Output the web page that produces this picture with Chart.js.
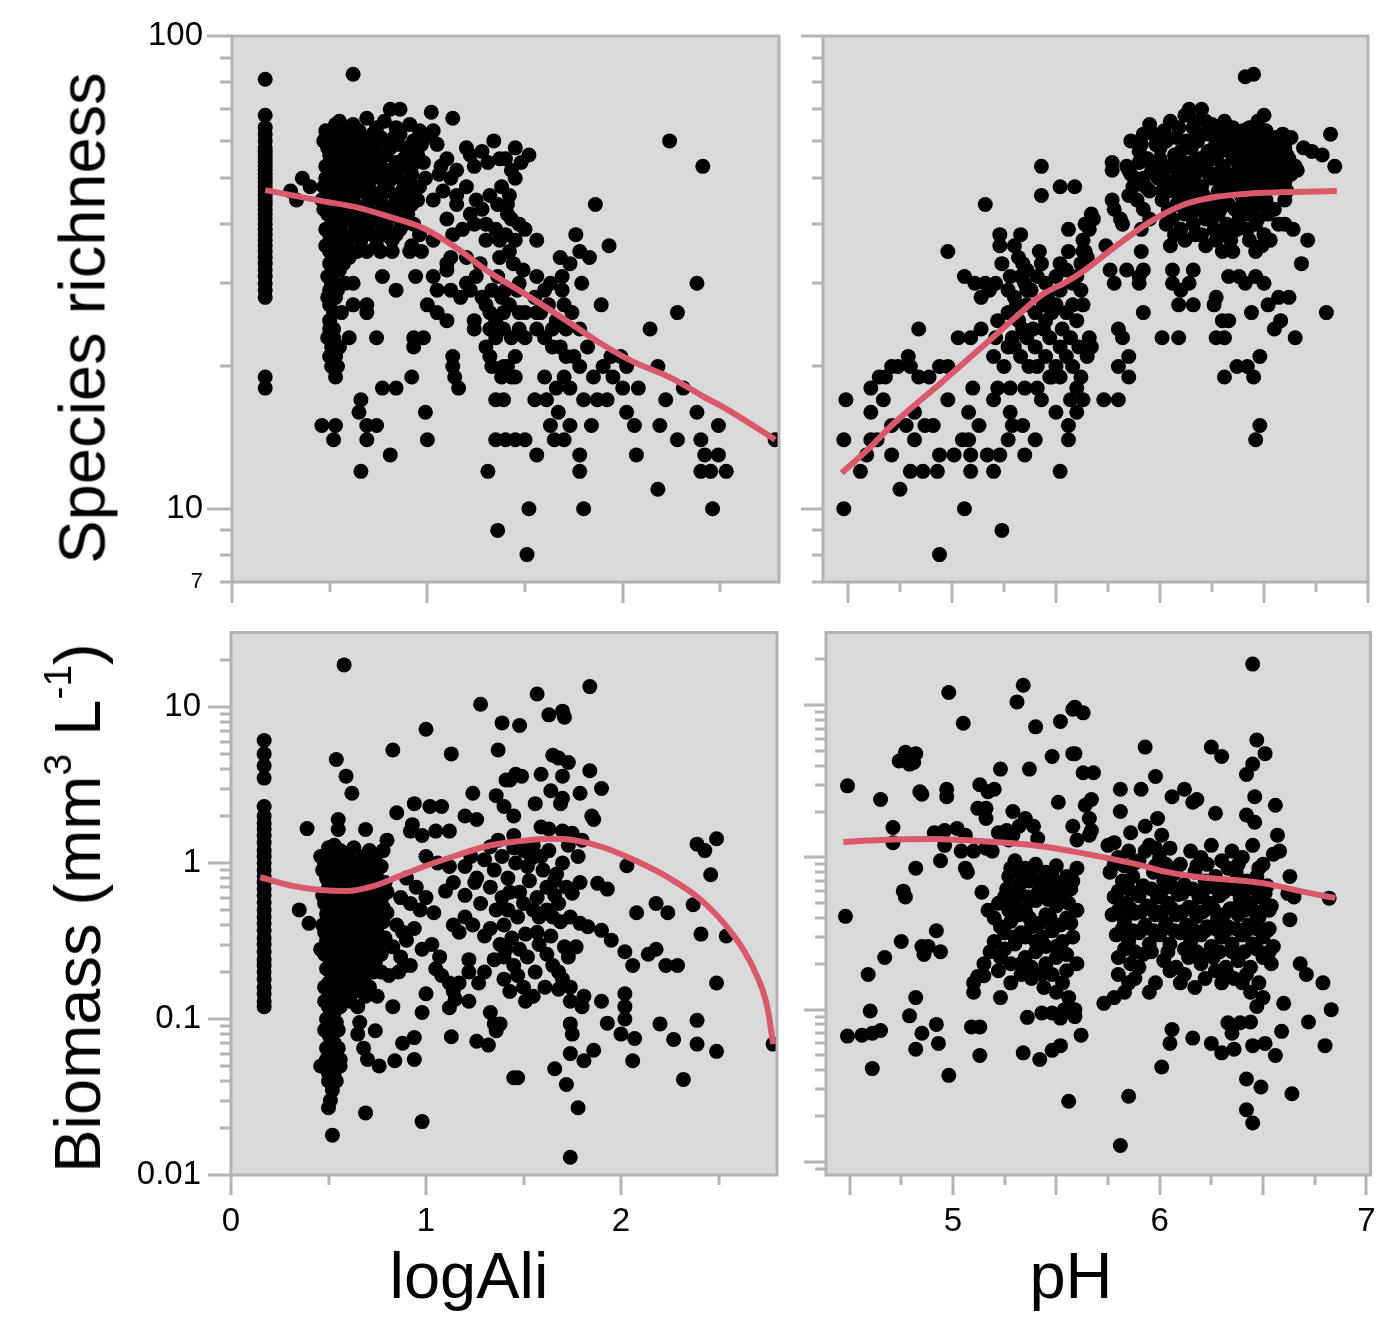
<!DOCTYPE html>
<html>
<head>
<meta charset="utf-8">
<script src="https://cdn.jsdelivr.net/npm/chart.js@4.4.1/dist/chart.umd.min.js"></script>
<style>
  html, body { margin: 0; padding: 0; background: #fff; }
  body { width: 1378px; height: 1336px; position: relative; overflow: hidden;
         font-family: "Liberation Sans", Arial, Helvetica, sans-serif; }
  canvas { position: absolute; }
  .title { position: absolute; font-size: 65px; line-height: 65px; color: #000; white-space: nowrap; }
  .vt { transform: translate(-50%, -50%) rotate(-90deg); }
  .ht { transform: translateX(-50%); }
  .sup { font-size: 0.6em; position: relative; top: -0.75em; }
</style>
</head>
<body>
<canvas id="tl" width="700" height="625" style="left:100px;top:0"></canvas>
<canvas id="tr" width="578" height="625" style="left:800px;top:0"></canvas>
<canvas id="bl" width="700" height="680" style="left:100px;top:625px"></canvas>
<canvas id="br" width="578" height="680" style="left:800px;top:625px"></canvas>

<div class="title vt" style="left:82px;top:318px">Species richness</div>
<div class="title vt" style="left:82px;top:908px">Biomass (mm<span class="sup">3</span> L<span class="sup">-1</span>)</div>
<div class="title ht" style="left:469px;top:1243px">logAli</div>
<div class="title ht" style="left:1071px;top:1243px">pH</div>

<script>
(function () {
  'use strict';

  // -- axis ranges and ticks --------------------------------------------------
  const aliRange = [0, 2.8];
  const phRangeTop = [4.38, 7.0];
  const phRangeBottom = [4.386, 7.02];
  const richRange = [7, 100];
  const bioRangeAli = [0.01, 30];
  const bioRangePh = [0.0082, 30];

  const aliMajor = [0, 1, 2];
  const aliMinor = [0.5, 1.5, 2.5];
  const aliLabels = [0, 1, 2];
  const phMajor = [4.5, 5, 5.5, 6, 6.5, 7];
  const phMinor = [4.75, 5.25, 5.75, 6.25, 6.75];
  const phLabels = [5, 6, 7];
  const richMajor = [100, 10];
  const richMinor = [90, 80, 70, 60, 50, 40, 30, 20, 9, 8, 7];
  const richLabels = [100, 10, 7];
  const richSmallLabel = 7;
  const bioMajor = [10, 1, 0.1, 0.01];
  const bioMinor = [20, 9, 8, 7, 6, 5, 4, 3, 2, 0.9, 0.8, 0.7, 0.6, 0.5, 0.4, 0.3, 0.2,
                    0.09, 0.08, 0.07, 0.06, 0.05, 0.04, 0.03, 0.02, 0.009];
  const bioLabels = [10, 1, 0.1, 0.01];

  // -- samples below the Ali detection limit (vertical stripe) ---------------
  const aliDL = 0.17;
  const richAtDL = [81, 68, 64, 62, 60, 58, 57, 56, 55, 54, 53, 52, 51, 50, 49, 48, 47, 46, 45, 44, 43,
                    42, 41, 40, 39, 38, 37, 36, 35, 34, 33, 32, 31, 30, 29, 28, 19, 18];
  const bioAtDL = [6.1, 5.0, 4.2, 3.5, 2.3, 2.0, 1.8, 1.65, 1.5, 1.35, 1.2, 1.1, 1.0, 0.9, 0.82, 0.75,
                   0.68, 0.62, 0.56, 0.5, 0.45, 0.41, 0.37, 0.33, 0.3, 0.27, 0.24, 0.22, 0.2, 0.18,
                   0.16, 0.145, 0.13, 0.12];

  // -- species richness vs logAli ---------------------------------------------
  const richAli = [
    [0.62,83],[2.24,60],[2.41,53],[1.52,56],[1.86,44],
    [0.53,65],[0.55,66],[0.6,64],[0.62,65],[0.69,67],[0.72,62],[0.81,70],[0.86,70],[0.91,65],[0.96,63],[1.02,69],[1.03,63],[1.13,67],
    [0.48,63],[0.52,63],[0.57,64],[0.65,63],[0.74,64],[0.78,66],[0.84,64],
    [0.47,60],[0.5,61],[0.53,59],[0.56,62],[0.59,61],[0.63,58],[0.66,60],[0.7,60],[0.74,59],[0.76,61],[0.79,60],[0.83,61],[0.86,62],[0.89,58],[0.93,60],[0.97,59],[1.05,59],[1.34,60],
    [0.49,58],[0.54,58],[0.58,57],[0.61,59],[0.68,58],[0.72,58],[0.81,58],[0.85,59],[0.91,57],[0.99,61],
    [0.5,56],[0.52,54],[0.55,57],[0.57,55],[0.6,53],[0.64,56],[0.67,54],[0.7,55],[0.73,57],[0.76,53],[0.79,56],[0.84,54],[0.88,55],[0.92,53],[0.95,56],[1.07,53],[1.1,55],[1.15,52],[1.2,58],[1.22,56],[1.24,53],[1.28,57],[1.31,54],[1.37,55],[1.4,55],[1.45,58],[1.48,54],
    [0.48,53],[0.53,52],[0.58,53],[0.62,54],[0.66,52],[0.71,53],[0.74,54],[0.81,52],[0.86,53],[0.9,56],[0.98,54],
    [0.36,50],[0.4,48],[0.47,48],[0.5,51],[0.52,49],[0.55,52],[0.58,50],[0.61,48],[0.64,51],[0.68,49],[0.72,50],[0.75,52],[0.78,48],[0.82,50],[0.85,52],[0.88,49],[0.92,51],[0.96,48],[1.06,51],[1.12,50],[1.2,48],[1.38,48],[1.43,52],[1.45,50],
    [0.48,50],[0.53,47],[0.57,48],[0.62,49],[0.67,47],[0.71,47],[0.77,50],[0.8,49],[0.87,47],[0.93,48],[0.99,50],
    [0.3,47],[0.33,45],[0.46,45],[0.49,46],[0.51,44],[0.54,47],[0.57,45],[0.6,46],[0.63,44],[0.66,47],[0.7,45],[0.73,46],[0.77,44],[0.8,47],[0.84,45],[0.88,44],[0.91,46],[0.95,45],[1.03,45],[1.08,47],[1.15,46],[1.25,45],[1.32,46],[1.36,44],[1.42,46],[1.41,44],
    [0.47,43],[0.53,44],[0.57,42],[0.62,45],[0.67,42],[0.7,43],[0.76,45],[0.8,42],[0.85,44],[0.92,44],
    [0.49,42],[0.52,40],[0.55,43],[0.58,41],[0.61,42],[0.65,40],[0.68,43],[0.72,41],[0.75,42],[0.79,40],[0.82,43],[0.86,41],[0.9,42],[0.93,40],[1.1,41],[1.15,44],[1.22,42],[1.24,40],[1.28,43],[1.3,40],[1.41,42],[1.43,41],[1.47,40],
    [0.48,39],[0.51,41],[0.57,37],[0.63,40],[0.67,39],[0.72,38],[0.77,40],[0.84,38],[0.88,40],
    [0.5,38],[0.53,37],[0.56,39],[0.59,36],[0.62,38],[0.66,37],[0.7,39],[0.74,36],[0.78,38],[0.82,37],[0.86,39],[0.92,36],[0.96,38],[1.03,37],[1.13,38],[1.18,39],[1.3,37],[1.35,39],[1.37,37],[1.4,38],[1.45,37],[1.5,39],[1.56,37],[1.76,38],
    [0.48,36],[0.51,37],[0.55,35],[0.57,33],[0.64,35],[0.49,28],[0.54,29],[0.52,24],[0.49,23],[0.54,20],
    [0.5,35],[0.52,34],[0.54,33],[0.6,34],[0.69,35],[0.76,35],[0.82,35],[0.91,35],[0.97,35],[1.12,34],[1.1,33],[1.2,34],[1.27,33],[1.42,35],[1.37,34],[1.44,33],[1.68,34],[1.78,35],[1.83,34],[1.93,36],
    [0.5,33],[0.52,32],[0.53,30],[0.5,29],[0.52,26],[0.5,25],[0.51,22],[0.53,21],
    [0.49,31],[0.51,30],[0.55,32],[0.58,30],[0.62,30],[0.77,31],[0.84,29],[0.94,31],[1.03,31],[1.05,29],[1.1,32],[1.12,29],[1.17,28],[1.2,30],[1.22,29],[1.25,31],[1.33,29],[1.36,31],[1.4,29],[1.47,30],[1.49,32],[1.56,31],[1.63,30],[1.69,31],[1.73,33],[1.6,29],[1.69,29],[1.79,30],[2.38,30],
    [0.5,27],[0.53,28],[0.56,26],[0.62,27],[0.69,26],[0.69,27],[1.0,27],[1.05,26],[1.1,25],[1.24,25],[1.28,28],[1.3,27],[1.32,26],[1.35,25],[1.39,26],[1.38,28],[1.42,27],[1.46,29],[1.47,26],[1.5,26],[1.55,28],[1.56,26],[1.58,26],[1.62,27],[1.66,25],[1.7,27],[1.74,26],[1.89,27],[2.28,26],
    [0.5,24],[0.52,23],[0.55,22],[0.6,23],[0.74,23],[0.93,23],[0.98,23],[0.93,22],[1.24,24],[1.3,22],[1.32,24],[1.35,23],[1.37,24],[1.39,24],[1.43,23],[1.47,24],[1.5,23],[1.56,24],[1.6,23],[1.64,24],[1.68,22],[1.71,24],[1.78,24],[1.64,22],[1.82,22],[2.14,24],
    [0.5,21],[0.51,20],[0.53,19],[0.92,19],[1.13,21],[1.13,20],[1.14,19],[1.16,18],[0.77,18],[0.84,18],[1.32,21],[1.33,20],[1.38,19],[1.39,20],[1.41,20],[1.43,19],[1.45,21],[1.45,19],[1.6,19],[1.7,19],[1.71,21],[1.75,21],[1.78,20],[1.85,19],[1.9,20],[1.94,21],[1.95,19],[1.99,21],[2.02,20],[2.18,20],
    [0.66,17],[0.65,16],[0.99,16],[1.35,17],[1.39,17],[1.55,17],[1.61,17],[1.66,18],[1.73,18],[1.8,17],[1.87,17],[1.92,17],[2.0,18],[2.08,18],[2.31,18],[2.22,17],[2.38,16],[1.67,16],[2.02,16],
    [0.46,15],[0.53,15],[0.69,15],[0.74,15],[1.63,15],[1.73,15],[1.84,15],[2.06,15],[2.19,15],[2.49,15],
    [0.52,14],[0.69,14],[1.0,14],[1.35,14],[1.4,14],[1.45,14],[1.5,14],[1.65,14],[1.7,14],[2.28,14],[2.4,14],[2.78,14],
    [0.81,13],[1.56,13],[1.78,13],[2.07,13],[2.42,13],[2.49,13],
    [0.66,12],[1.31,12],[1.78,12],[2.4,12],[2.45,12],[2.53,12],
    [2.18,11],[1.52,10],[1.8,10],[2.46,10],[1.36,9],[1.51,8]
  ];
  const richAliFit = [[0.17,47.2],[0.47,44.7],[0.64,43.4],[0.81,41.4],[0.98,39.2],[1.15,35.6],[1.3,32],[1.45,29.3],
                      [1.6,26.8],[1.75,24.4],[1.9,22.2],[2.05,20.5],[2.25,18.9],[2.4,17.4],[2.57,15.9],[2.78,14.0]];

  // -- species richness vs pH -------------------------------------------------
  const richPh = [
    [4.48,10],[4.49,17],[4.61,16],[4.61,18],[4.65,19],[4.67,17],[4.71,15],[4.78,15],[4.87,15],[4.91,15],[4.48,14],[4.61,14],[4.64,14],[4.82,14],
    [4.59,13],[4.71,13],[4.94,13],[5.01,13],[5.09,13],[4.56,12],[4.8,12],[4.86,12],[4.93,12],[5.09,12],[5.2,12],[5.52,12],[4.75,11],[5.06,10],[5.24,9],[4.94,8],
    [4.82,16],[5.08,16],[5.28,16],[5.5,16],[5.6,16],[5.13,15],[5.29,15],[5.34,15],[5.56,15],[5.05,14],[5.08,14],[5.27,14],[5.4,14],[5.56,14],[5.17,13],[5.23,13],[5.35,13],
    [4.98,17],[5.2,17],[5.43,17],[5.1,18],[5.22,18],[5.28,18],[5.35,18],[5.41,18],[5.48,19],[5.52,19],
    [4.71,20],[4.74,20],[4.79,21],[4.8,20],[4.84,19],[4.89,19],[4.94,20],[4.98,20],[4.68,19],
    [4.84,24],[5.03,23],[5.09,23],[5.14,24],[5.21,23],[5.29,23],[5.36,23],[5.44,24],[5.47,23],[5.57,23],[5.61,22],
    [5.2,21],[5.25,20],[5.3,22],[5.33,21],[5.37,20],[5.4,22],[5.45,21],[5.5,20],[5.55,21],[5.58,20],[5.62,19],[5.6,18],[5.57,17],[5.65,21],
    [5.22,25],[5.27,26],[5.32,25],[5.36,27],[5.4,26],[5.45,25],[5.5,27],[5.55,26],[5.6,25],[5.63,27],[5.3,28],[5.38,29],[5.46,28],[5.52,29],[5.58,30],
    [5.24,33],[5.28,31],[5.27,29],[5.31,27],[5.36,29],[5.41,31],[5.45,30],[5.48,26],[5.53,24],[5.58,27],[5.62,29],[5.27,22],[5.34,24],[5.41,20],[5.47,19],[5.52,22],[5.44,27],[5.39,24],
    [5.06,31],[5.11,30],[5.16,30],[5.18,29],[5.14,28],[5.21,30],[5.23,38],[5.33,38],[5.23,36],[5.3,36],[5.32,34],[5.34,33],[5.33,31],[5.36,32],[5.35,30],
    [5.43,33],[5.52,33],[5.56,39],[5.64,40],[5.56,35],[5.64,35],[5.42,35],[5.5,31],[5.55,32],[5.6,31],[5.62,33],
    [4.98,35],[5.16,44],[5.43,46],[5.43,53],[5.52,48],[5.59,48],[5.67,42],
    [6.41,82],[6.45,83],[6.5,68],[6.82,62],[6.63,61],[6.69,58],[6.73,57],[6.78,56],[6.84,53],[5.86,60],[6.65,53],
    [5.9,57],[5.92,62],[5.95,65],[5.98,59],[6.0,55],[6.02,63],[6.05,66],[6.08,61],[6.1,57],[6.12,68],[6.14,70],[6.16,64],[6.18,60],[6.2,70],[6.22,66],[6.24,62],[6.26,58],[6.28,64],
    [6.3,61],[6.32,63],[6.34,57],[6.36,60],[6.38,55],[6.4,63],[6.42,59],[6.44,61],[6.46,57],[6.48,62],[6.5,60],[6.52,56],[6.54,59],[6.56,61],[6.58,55],[6.6,58],[6.62,53],
    [5.91,59],[5.94,55],[5.97,62],[6.0,58],[6.03,60],[6.07,56],[6.09,64],[6.11,54],[6.13,60],[6.15,58],[6.17,66],[6.19,55],[6.21,62],[6.23,57],[6.25,65],[6.27,60],[6.29,57],
    [6.31,66],[6.33,60],[6.35,64],[6.37,58],[6.39,60],[6.41,56],[6.43,64],[6.45,59],[6.47,66],[6.49,57],[6.51,63],[6.53,61],[6.55,57],[6.57,59],[6.59,62],[6.61,56],
    [5.85,52],[5.88,50],[5.9,54],[5.93,48],[5.96,52],[5.99,50],[6.01,47],[6.03,53],[6.06,49],[6.08,52],[6.11,50],[6.13,47],[6.15,54],[6.17,51],[6.2,48],[6.22,53],[6.24,50],
    [6.27,55],[6.29,49],[6.31,52],[6.33,47],[6.36,51],[6.38,53],[6.4,48],[6.42,52],[6.45,50],[6.47,54],[6.5,49],[6.52,52],[6.55,50],[6.57,53],[6.6,49],[6.63,51],[6.66,52],[6.61,47],
    [5.87,48],[5.92,50],[5.95,47],[5.97,54],[6.0,52],[6.02,50],[6.04,47],[6.07,54],[6.09,48],[6.12,52],[6.14,50],[6.16,48],[6.19,52],[6.21,46],[6.23,55],[6.26,51],
    [6.28,47],[6.3,53],[6.32,50],[6.35,55],[6.37,48],[6.39,51],[6.41,46],[6.43,55],[6.46,48],[6.48,51],[6.51,47],[6.53,55],[6.56,48],[6.58,51],[6.62,55],
    [5.77,54],[5.77,52],[5.84,53],[5.86,51],
    [6.01,45],[6.04,43],[6.06,41],[6.08,44],[6.1,39],[6.12,42],[6.14,45],[6.16,40],[6.18,43],[6.2,38],[6.22,41],[6.24,44],[6.26,39],[6.28,42],[6.3,45],[6.32,40],[6.34,37],
    [6.36,43],[6.38,41],[6.4,44],[6.42,39],[6.44,42],[6.46,40],[6.48,44],[6.5,38],[6.52,42],[6.05,36],[6.12,37],[6.22,36],[6.3,35],[6.35,35],[6.46,35],[6.53,37],[6.6,45],[6.6,40],[6.64,39],[6.71,37],
    [6.03,40],[6.07,38],[6.09,46],[6.11,44],[6.15,42],[6.17,38],[6.19,46],[6.21,43],[6.25,41],[6.27,37],[6.29,43],[6.31,38],[6.33,44],[6.37,39],[6.39,46],[6.41,42],
    [6.43,37],[6.45,45],[6.47,41],[6.49,36],[6.51,45],[6.55,43],[6.57,40],
    [5.77,45],[5.78,43],[5.81,41],[5.82,40],[5.68,41],[5.66,39],[5.63,37],[5.63,35],[5.65,34],[5.74,36],[5.85,46],[5.89,45],[5.92,43],[5.95,41],[5.91,39],[5.91,35],
    [5.76,32],[5.84,32],[5.9,31],[5.92,32],[5.78,30],[5.9,30],[6.06,32],[6.06,30],[6.1,29],[6.14,30],[6.16,32],[6.68,33],[6.09,27],[6.16,27],[5.92,26],[6.27,28],[6.26,27],[6.3,25],[6.33,25],
    [6.33,31],[6.38,31],[6.41,30],[6.46,31],[6.5,30],[6.44,26],[6.52,27],[6.57,28],[6.62,28],[6.58,25],[6.55,24],[6.65,23],[6.8,26],[6.01,23],[6.09,23],[6.27,23],[6.31,23],
    [5.8,24],[5.82,23],[5.66,23],[5.67,22],[5.85,21],[5.8,20],[5.85,19],[6.37,20],[6.42,20],[6.48,21],[6.45,19],[6.31,19],[5.63,17],[5.73,17],[5.8,17],[6.48,15],[6.46,14]
  ];
  const richPhFit = [[4.47,11.9],[4.6,13.4],[4.71,15],[4.83,16.7],[4.95,18.5],[5.07,20.6],[5.19,22.9],[5.31,25.5],[5.43,28.3],
                     [5.55,30.2],[5.64,32],[5.79,36],[5.95,40.4],[6.11,43.9],[6.27,45.7],[6.42,46.4],[6.58,46.7],[6.85,47]];

  // -- biomass vs logAli ------------------------------------------------------
  const bioAli = [
    [0.58,18.6],[1.28,10.4],[1.0,7.2],[0.83,5.3],[1.13,5.0],[1.39,7.9],[1.37,5.3],[1.48,7.6],[1.84,13.5],[1.57,12.1],[1.63,8.9],[1.7,9.4],[1.71,8.6],
    [0.54,4.6],[0.59,3.6],[0.62,2.8],[0.39,1.66],[0.35,0.5],[0.4,0.41],[0.55,1.9],[0.55,1.64],[0.69,1.64],[0.85,2.1],[0.94,2.4],[1.02,2.3],[1.08,2.3],[0.93,1.76],
    [1.2,2.0],[1.26,1.9],[1.24,2.8],[1.36,2.7],[1.41,3.4],[1.46,3.7],[1.65,4.9],[1.68,4.7],[1.73,4.4],[1.7,3.6],[1.59,3.7],[1.84,3.9],[1.9,3.0],[1.49,3.6],[1.43,3.4],
    [1.79,2.8],[1.64,2.9],[1.7,2.6],[1.69,2.4],[1.56,2.4],[1.45,2.0],[1.4,2.3],[1.85,2.0],[1.86,1.9],[1.59,1.7],[1.63,1.65],[1.7,1.6],[1.75,1.55],
    [2.49,1.43],[2.39,1.32],[2.43,1.2],[2.46,0.84],[2.03,0.96],[2.08,0.48],[2.18,0.55],[2.24,0.48],[2.37,0.54],[2.41,0.35],[2.54,0.34],[2.02,0.27],[2.06,0.22],
    [2.14,0.26],[2.18,0.28],[2.23,0.22],[2.29,0.22],[2.49,0.17],[1.9,0.13],[2.02,0.145],[2.02,0.12],[2.02,0.1],[1.93,0.094],[2.0,0.08],[2.07,0.075],[2.06,0.054],
    [1.47,0.042],[1.66,0.048],[1.72,0.038],[1.78,0.027],[2.32,0.041],[1.74,0.013],[2.78,0.069],[2.2,0.093],[2.27,0.074],[2.39,0.098],[2.39,0.069],[2.49,0.062],
    [1.39,1.1],[1.54,1.07],[1.59,1.1],[1.63,1.2],[1.78,1.1],[1.67,0.85],[1.66,0.77],[1.53,0.77],[1.42,0.8],[1.62,0.7],[1.66,0.62],[1.75,0.64],[1.79,0.75],[1.88,0.74],[1.93,0.68],
    [1.69,0.42],[1.74,0.45],[1.79,0.41],[1.83,0.39],[1.9,0.37],[1.95,0.32],[1.51,0.35],[1.57,0.36],[1.64,0.34],[1.71,0.29],[1.77,0.29],[1.62,0.26],[1.73,0.25],
    [1.61,0.16],[1.68,0.155],[1.74,0.16],[1.81,0.14],[1.74,0.13],[1.8,0.12],[1.51,0.13],[1.74,0.093],[1.75,0.08],[1.74,0.06],[1.81,0.054],[1.86,0.063],
    [1.45,1.5],[1.5,1.2],[1.52,0.95],[1.55,1.3],[1.6,0.9],[1.57,0.6],[1.62,0.5],[1.58,0.45],[1.68,0.55],[1.72,0.7],[1.7,1.0],[1.73,1.3],[1.8,1.4],
    [1.48,0.65],[1.5,0.55],[1.55,0.5],[1.65,0.45],[1.52,0.25],[1.56,0.2],[1.65,0.22],[1.68,0.2],[1.7,0.18],[1.58,0.3],[1.47,0.19],[1.5,0.16],[1.55,0.14],
    [1.39,0.6],[1.42,0.5],[1.4,0.4],[1.44,0.33],[1.41,0.28],[1.45,0.22],[1.4,0.18],[1.43,0.15],[1.47,0.45],[1.48,0.28],
    [0.8,1.4],[0.78,1.2],[0.92,1.6],[0.98,1.5],[1.05,1.6],[1.12,1.6],[1.0,1.1],[1.06,1.0],[1.12,0.95],[1.2,0.95],[1.23,1.1],[1.3,1.05],[1.26,0.8],[1.33,0.7],[1.2,0.62],
    [1.25,0.75],[1.33,1.27],[1.37,1.4],[1.35,0.9],[1.28,0.55],[1.36,0.5],[1.43,0.65],[1.46,1.0],[1.45,1.25],
    [0.9,0.8],[0.95,0.7],[1.0,0.6],[1.1,0.66],[1.14,0.75],[0.87,0.6],[0.92,0.55],[0.97,0.5],[1.04,0.48],[1.14,0.4],[1.17,0.36],[1.2,0.45],[1.24,0.4],[1.3,0.34],[1.33,0.38],
    [1.38,0.3],[1.35,0.24],[1.4,0.25],[1.3,0.2],[1.27,0.17],[1.22,0.24],[1.22,0.2],[1.17,0.17],[1.05,0.21],[1.08,0.19],[1.12,0.17],[1.14,0.15],[1.03,0.3],[1.07,0.25],
    [0.98,0.28],[0.88,0.36],[0.85,0.4],[0.9,0.32],[0.94,0.38],[0.83,0.29],[0.87,0.25],[0.92,0.22],[0.77,0.2],[0.81,0.19],[0.86,0.2],[0.89,0.22],
    [0.98,0.11],[1.0,0.145],[1.12,0.118],[1.15,0.134],[1.22,0.13],[1.33,0.11],[1.35,0.093],[1.38,0.093],[0.83,0.12],[0.75,0.14],[0.69,0.14],
    [0.66,0.095],[0.65,0.08],[0.68,0.065],[0.7,0.055],[0.76,0.05],[0.74,0.084],[0.84,0.054],[0.88,0.07],[0.94,0.076],[0.94,0.055],[1.13,0.077],[1.26,0.072],
    [1.32,0.068],[1.36,0.084],[1.45,0.042],[0.69,0.025],[0.98,0.022],[0.52,0.018],
    [0.46,1.1],[0.5,1.25],[0.53,1.3],[0.56,1.2],[0.6,1.15],[0.63,1.25],[0.68,1.1],[0.71,1.2],[0.74,1.05],[0.47,0.9],[0.52,0.95],[0.57,0.85],[0.62,0.9],[0.66,0.8],
    [0.7,0.85],[0.75,0.8],[0.79,0.75],[0.5,0.7],[0.54,0.65],[0.58,0.72],[0.61,0.6],[0.65,0.68],[0.69,0.6],[0.73,0.65],[0.77,0.58],[0.48,0.55],[0.52,0.5],[0.56,0.52],
    [0.6,0.48],[0.64,0.5],[0.68,0.45],[0.72,0.5],[0.76,0.44],[0.8,0.48],[0.47,0.4],[0.51,0.42],[0.55,0.38],[0.59,0.4],[0.63,0.36],[0.67,0.38],[0.71,0.34],[0.75,0.36],
    [0.79,0.33],[0.49,0.32],[0.53,0.3],[0.57,0.33],[0.61,0.29],[0.65,0.3],[0.69,0.27],[0.73,0.29],[0.77,0.26],[0.46,0.28],[0.5,0.25],[0.54,0.24],[0.58,0.26],[0.62,0.22],
    [0.66,0.24],[0.7,0.21],[0.74,0.23],[0.51,0.2],[0.55,0.19],[0.59,0.2],[0.63,0.17],[0.67,0.18],[0.71,0.16],[0.48,0.16],[0.53,0.15],[0.57,0.14],[0.61,0.13],[0.65,0.12],
    [0.48,1.0],[0.52,1.1],[0.55,1.0],[0.58,0.95],[0.61,1.05],[0.65,0.95],[0.68,0.95],[0.72,0.92],[0.77,0.95],
    [0.49,0.8],[0.54,0.78],[0.58,0.82],[0.6,0.75],[0.64,0.74],[0.68,0.72],[0.72,0.75],[0.76,0.68],[0.8,0.65],
    [0.47,0.62],[0.52,0.6],[0.56,0.6],[0.6,0.55],[0.63,0.58],[0.66,0.55],[0.7,0.56],[0.74,0.55],[0.78,0.52],
    [0.49,0.47],[0.53,0.45],[0.57,0.45],[0.62,0.43],[0.66,0.44],[0.7,0.42],[0.74,0.4],[0.78,0.42],
    [0.48,0.36],[0.52,0.35],[0.56,0.34],[0.6,0.34],[0.64,0.32],[0.69,0.31],[0.72,0.31],[0.76,0.3],
    [0.48,0.26],[0.52,0.27],[0.56,0.28],[0.6,0.24],[0.64,0.26],[0.68,0.23],[0.72,0.25],
    [0.49,0.21],[0.53,0.22],[0.57,0.23],[0.61,0.19],[0.65,0.2],[0.69,0.19],[0.73,0.2],
    [0.5,0.17],[0.55,0.16],[0.59,0.17],[0.63,0.15],[0.67,0.15],[0.52,0.13],[0.56,0.12],[0.48,0.13],
    [0.5,0.12],[0.53,0.11],[0.49,0.1],[0.52,0.09],[0.55,0.085],[0.5,0.08],[0.53,0.07],[0.49,0.065],[0.52,0.06],[0.56,0.055],[0.46,0.05],[0.51,0.05],[0.53,0.045],
    [0.5,0.04],[0.52,0.035],[0.51,0.03],[0.5,0.027],[0.56,0.05],[0.54,0.095],[0.48,0.085],[0.51,0.075],[0.55,0.065],[0.49,0.055],[0.54,0.04],[0.5,0.045]
  ];
  const bioAliFit = [[0.15,0.81],[0.32,0.71],[0.46,0.67],[0.59,0.66],[0.73,0.71],[0.86,0.82],[1.0,0.96],[1.14,1.1],[1.31,1.28],
                     [1.48,1.38],[1.63,1.43],[1.76,1.4],[1.9,1.27],[2.07,1.04],[2.24,0.81],[2.41,0.58],[2.58,0.34],[2.68,0.21],[2.75,0.12],[2.78,0.069]];

  // -- biomass vs pH -----------------------------------------------------------
  const bioPh = [
    [4.98,12.1],[5.34,13.5],[5.31,10.5],[5.05,7.6],[5.4,7.2],[5.52,7.8],[5.58,9.4],[4.77,4.9],[4.74,4.3],[4.82,4.8],[4.79,4.1],[4.81,4.2],
    [4.49,2.95],[4.65,2.4],[4.84,2.7],[4.85,2.6],[4.97,2.8],[4.97,2.5],[5.13,3.0],[5.2,2.8],[5.17,2.7],[5.23,3.8],[5.37,3.8],[5.48,4.6],[5.58,4.8],[5.51,2.3],
    [5.12,2.1],[5.16,2.1],[5.16,1.8],[4.71,1.57],[4.91,1.45],[4.96,1.5],[5.02,1.55],[5.06,1.4],[5.29,2.0],[5.35,1.8],[5.32,1.6],[5.39,1.6],[5.22,1.45],[5.26,1.5],
    [5.29,1.4],[5.27,1.3],[5.41,1.33],[4.71,1.25],[4.96,1.2],[5.04,1.1],[5.1,1.1],[5.19,1.1],[5.16,1.15],[4.94,0.95],[4.82,0.85],[5.06,0.85],[5.07,0.8],[5.14,0.59],
    [4.76,0.6],[4.77,0.55],[4.48,0.41],[4.92,0.33],[4.75,0.28],[4.67,0.22],[4.85,0.26],[4.88,0.26],[4.86,0.23],[4.94,0.24],[4.59,0.17],[5.15,0.167],[5.12,0.165],
    [4.82,0.12],[4.6,0.098],[4.79,0.091],[5.36,0.089],[4.49,0.067],[4.56,0.068],[4.61,0.07],[4.65,0.073],[4.85,0.07],[4.82,0.055],[4.93,0.06],[4.92,0.08],[5.09,0.077],
    [5.13,0.077],[5.13,0.05],[5.34,0.052],[5.42,0.047],[5.48,0.054],[5.52,0.058],[4.61,0.041],[4.98,0.037],[5.56,0.025],
    [5.3,0.95],[5.35,0.85],[5.4,0.9],[5.45,0.8],[5.5,0.88],[5.55,0.75],[5.6,0.85],[5.27,0.75],[5.32,0.65],[5.37,0.7],[5.42,0.6],[5.47,0.65],[5.52,0.55],[5.57,0.62],
    [5.25,0.55],[5.3,0.5],[5.35,0.45],[5.4,0.52],[5.45,0.42],[5.5,0.48],[5.55,0.4],[5.6,0.45],[5.17,0.45],[5.2,0.4],[5.23,0.35],[5.28,0.38],[5.33,0.32],[5.38,0.35],
    [5.43,0.3],[5.48,0.33],[5.53,0.28],[5.58,0.3],[5.2,0.28],[5.25,0.25],[5.3,0.27],[5.35,0.22],[5.4,0.24],[5.45,0.2],[5.5,0.22],[5.55,0.18],[5.6,0.2],[5.15,0.2],
    [5.22,0.18],[5.28,0.15],[5.33,0.17],[5.38,0.16],[5.44,0.14],[5.5,0.13],[5.56,0.12],[5.43,0.095],[5.48,0.095],[5.54,0.1],[5.52,0.088],[5.1,0.15],[5.1,0.13],[5.23,0.12],
    [5.28,0.85],[5.33,0.78],[5.38,0.8],[5.43,0.7],[5.48,0.75],[5.53,0.68],[5.58,0.7],
    [5.26,0.62],[5.31,0.58],[5.36,0.55],[5.41,0.58],[5.46,0.53],[5.51,0.6],[5.56,0.5],
    [5.22,0.5],[5.27,0.45],[5.32,0.42],[5.37,0.4],[5.42,0.37],[5.47,0.4],[5.52,0.36],[5.57,0.37],
    [5.25,0.32],[5.3,0.3],[5.35,0.3],[5.4,0.28],[5.45,0.26],[5.5,0.26],[5.55,0.23],
    [5.18,0.24],[5.23,0.22],[5.28,0.2],[5.33,0.2],[5.38,0.19],[5.43,0.17],[5.48,0.17],[5.53,0.15],
    [5.75,1.2],[5.8,1.0],[5.85,1.1],[5.9,0.95],[5.95,1.2],[6.0,1.0],[6.05,1.15],[6.1,0.9],[6.15,1.1],[6.2,1.0],[6.25,1.2],[6.3,0.95],[6.35,1.1],[6.4,1.0],[6.45,1.2],[6.5,0.9],[6.55,1.05],
    [5.78,0.9],[5.83,0.88],[5.88,0.92],[5.98,0.88],[6.03,0.9],[6.08,0.85],[6.18,0.88],[6.23,0.9],[6.33,0.85],[6.38,0.9],[6.48,0.85],
    [5.76,0.8],[5.82,0.7],[5.87,0.75],[5.92,0.65],[5.97,0.8],[6.02,0.7],[6.07,0.78],[6.12,0.66],[6.17,0.8],[6.22,0.7],[6.27,0.75],[6.32,0.65],[6.37,0.8],[6.42,0.7],[6.47,0.75],[6.52,0.65],
    [5.8,0.6],[5.85,0.62],[5.9,0.56],[5.96,0.62],[6.01,0.6],[6.06,0.64],[6.11,0.58],[6.16,0.62],[6.21,0.6],[6.26,0.64],[6.31,0.59],[6.36,0.62],[6.41,0.6],[6.46,0.62],[6.51,0.58],
    [5.78,0.55],[5.84,0.5],[5.89,0.58],[5.94,0.48],[5.99,0.55],[6.04,0.5],[6.09,0.57],[6.14,0.47],[6.19,0.55],[6.24,0.5],[6.29,0.56],[6.34,0.46],[6.39,0.54],[6.44,0.5],[6.49,0.55],[6.54,0.48],
    [5.8,0.45],[5.86,0.46],[5.91,0.44],[5.96,0.46],[6.01,0.44],[6.06,0.46],[6.11,0.44],[6.16,0.46],[6.21,0.44],[6.26,0.46],[6.31,0.42],[6.36,0.46],[6.41,0.45],[6.46,0.44],[6.51,0.46],
    [5.77,0.42],[5.83,0.38],[5.88,0.43],[5.93,0.36],[5.98,0.42],[6.03,0.37],[6.08,0.42],[6.13,0.36],[6.18,0.41],[6.23,0.35],[6.28,0.4],[6.33,0.35],[6.38,0.42],[6.43,0.36],[6.48,0.4],[6.53,0.34],
    [5.82,0.34],[5.87,0.33],[5.92,0.34],[5.97,0.33],[6.02,0.34],[6.07,0.33],[6.12,0.34],[6.17,0.33],[6.22,0.33],[6.27,0.34],[6.32,0.33],[6.37,0.34],[6.42,0.33],[6.47,0.34],[6.52,0.33],
    [5.79,0.31],[5.85,0.28],[5.9,0.32],[5.95,0.27],[6.0,0.31],[6.05,0.27],[6.1,0.32],[6.15,0.28],[6.2,0.31],[6.25,0.26],[6.3,0.3],[6.35,0.27],[6.4,0.31],[6.45,0.27],[6.5,0.3],[6.55,0.26],
    [5.83,0.25],[5.88,0.24],[5.96,0.24],[6.04,0.24],[6.12,0.25],[6.18,0.24],[6.23,0.23],[6.29,0.24],[6.35,0.24],[6.41,0.24],[6.47,0.25],[6.53,0.24],
    [5.8,0.22],[5.86,0.2],[5.92,0.23],[6.02,0.21],[6.08,0.19],[6.14,0.22],[6.2,0.2],[6.26,0.22],[6.32,0.19],[6.38,0.21],[6.44,0.19],[6.5,0.22],[6.54,0.2],
    [6.05,0.18],[6.27,0.18],[6.33,0.17],[6.4,0.15],[6.12,0.17],[5.9,0.19],
    [5.88,0.16],[5.98,0.15],[6.1,0.15],[6.22,0.16],[6.3,0.15],[6.36,0.16],[6.42,0.17],[6.48,0.15],[5.95,0.13],[6.17,0.14],[6.44,0.13],[6.5,0.12],
    [6.45,18.6],[5.59,9.7],[5.63,8.9],[5.93,5.3],[6.47,5.9],[6.51,4.8],[6.25,5.3],[6.3,4.6],[6.45,4.1],[6.42,3.5],[5.98,3.4],[5.59,4.8],[5.63,3.6],[5.68,3.6],
    [5.81,2.8],[5.91,2.8],[5.64,2.2],[5.67,2.4],[5.66,1.8],[6.12,2.8],[6.06,2.5],[6.16,2.3],[6.18,2.4],[6.27,1.95],[6.46,2.5],[6.56,2.2],[5.81,2.0],[5.78,1.25],
    [5.86,1.45],[6.42,1.9],[6.46,1.7],[6.57,1.4],[6.58,1.1],[5.58,1.6],[5.6,1.3],[5.67,1.5],[5.66,1.4],[5.99,1.8],[5.93,1.6],[6.01,1.4],[5.93,1.1],[5.98,1.15],
    [6.63,0.75],[6.65,0.55],[6.62,0.58],[6.53,0.45],[6.63,0.39],[6.82,0.54],[6.68,0.2],[6.71,0.17],[6.79,0.15],[6.83,0.1],[6.72,0.083],[6.8,0.058],[6.59,0.072],
    [6.6,0.11],[6.47,0.105],[6.33,0.082],[6.39,0.082],[6.44,0.083],[6.35,0.07],[6.25,0.06],[6.3,0.052],[6.36,0.055],[6.45,0.058],[6.51,0.06],[6.56,0.05],[6.06,0.074],
    [6.05,0.06],[6.01,0.042],[6.16,0.065],[6.42,0.035],[6.49,0.031],[6.42,0.022],[6.45,0.018],[6.64,0.028],[5.85,0.027],[5.81,0.0128],[5.62,0.068],[5.59,0.09],
    [5.59,0.1],[5.73,0.11],[5.78,0.12],[5.8,0.17],[5.85,0.15],[5.83,0.13]
  ];
  const bioPhFit = [[4.47,1.26],[4.65,1.3],[4.89,1.32],[5.13,1.28],[5.37,1.21],[5.57,1.1],[5.73,1.0],[5.89,0.9],[6.04,0.8],
                    [6.2,0.74],[6.36,0.71],[6.52,0.67],[6.68,0.6],[6.85,0.54]];

  // -- look -------------------------------------------------------------------
  const FONT = '"Liberation Sans", Arial, Helvetica, sans-serif';
  const PANEL_BG = '#d9d9d9';
  const FRAME = '#b3b3b3';
  const FIT_RED = '#d9586b';

  function toXY(pairs) { return pairs.map(function (p) { return { x: p[0], y: p[1] }; }); }
  function stripe(x, ys) { return ys.map(function (y) { return [x, y]; }); }

  // gray panel, frame and the long/short tick marks hanging off it
  const panelDeco = {
    id: 'panelDeco',
    beforeDatasetsDraw: function (chart) {
      const a = chart.chartArea, ctx = chart.ctx;
      ctx.save();
      ctx.fillStyle = PANEL_BG;
      ctx.fillRect(a.left, a.top, a.right - a.left, a.bottom - a.top);
      ctx.restore();
    },
    afterDatasetsDraw: function (chart, args, o) {
      const a = chart.chartArea, ctx = chart.ctx;
      const xs = chart.scales.x, ys = chart.scales.y;
      ctx.save();
      ctx.strokeStyle = FRAME;
      ctx.lineWidth = 3;
      ctx.strokeRect(a.left, a.top, a.right - a.left, a.bottom - a.top);
      ctx.beginPath();
      function xt(vals, len) {
        vals.forEach(function (v) {
          if (v < xs.min - 1e-9 || v > xs.max + 1e-9) return;
          const p = Math.round(xs.getPixelForValue(v));
          ctx.moveTo(p, a.bottom); ctx.lineTo(p, a.bottom + len);
        });
      }
      function yt(vals, len) {
        vals.forEach(function (v) {
          if (v < ys.min * 0.999 || v > ys.max * 1.001) return;
          const p = Math.round(ys.getPixelForValue(v));
          ctx.moveTo(a.left, p); ctx.lineTo(a.left - len, p);
        });
      }
      xt(o.xMajor, o.xLong); xt(o.xMinor, o.xShort);
      yt(o.yMajor, o.yLong); yt(o.yMinor, o.yShort);
      ctx.stroke();
      ctx.restore();
    }
  };

  function buildPanel(id, c) {
    const yFont = function (ctx) {
      const v = ctx.tick ? ctx.tick.value : 0;
      return { family: FONT, size: (c.smallY !== undefined && v === c.smallY) ? 22 : 33 };
    };
    return new Chart(document.getElementById(id), {
      type: 'scatter',
      data: {
        datasets: [
          { data: toXY(c.points), backgroundColor: '#000', borderWidth: 0, pointRadius: 7.5, pointHoverRadius: 7.5, order: 2 },
          { data: toXY(c.fit), showLine: true, borderColor: FIT_RED, borderWidth: 6, pointRadius: 0,
            cubicInterpolationMode: 'monotone', order: 1 }
        ]
      },
      options: {
        responsive: false,
        animation: false,
        events: [],
        layout: { padding: c.pad },
        plugins: { legend: { display: false }, tooltip: { enabled: false }, panelDeco: c.deco },
        scales: {
          x: {
            type: 'linear', min: c.xRange[0], max: c.xRange[1],
            grid: { display: false, drawTicks: false }, border: { display: false },
            afterBuildTicks: function (s) { s.ticks = c.xLabels.map(function (v) { return { value: v }; }); },
            afterFit: function (s) { s.height = c.xH; s.paddingLeft = 0; s.paddingRight = 0; },
            ticks: { display: c.showX, autoSkip: false, maxRotation: 0, minRotation: 0, padding: c.xPad,
                     color: '#000', font: { family: FONT, size: 33 }, callback: function (v) { return String(v); } }
          },
          y: {
            type: 'logarithmic', min: c.yRange[0], max: c.yRange[1],
            grid: { display: false, drawTicks: false }, border: { display: false },
            afterBuildTicks: function (s) { s.ticks = c.yLabels.map(function (v) { return { value: v }; }); },
            afterFit: function (s) { s.width = c.yW; s.paddingTop = 0; s.paddingBottom = 0; },
            ticks: { display: c.showY, autoSkip: false, padding: c.yPad,
                     color: '#000', font: yFont, callback: function (v) { return String(v); } }
          }
        }
      },
      plugins: [panelDeco]
    });
  }

  buildPanel('tl', {
    points: stripe(aliDL, richAtDL).concat(richAli), fit: richAliFit,
    xRange: aliRange, yRange: richRange, xLabels: aliLabels, yLabels: richLabels, smallY: richSmallLabel,
    showX: false, showY: true, xPad: 28, yPad: 29,
    pad: { top: 36, right: 21, left: 0, bottom: 0 }, yW: 132, xH: 43,
    deco: { xMajor: aliMajor, xMinor: aliMinor, yMajor: richMajor, yMinor: richMinor, xLong: 21, xShort: 10, yLong: 25, yShort: 12 }
  });
  buildPanel('tr', {
    points: richPh, fit: richPhFit,
    xRange: phRangeTop, yRange: richRange, xLabels: phLabels, yLabels: richLabels,
    showX: false, showY: false, xPad: 28, yPad: 10,
    pad: { top: 36, right: 10, left: 0, bottom: 0 }, yW: 23, xH: 43,
    deco: { xMajor: phMajor, xMinor: phMinor, yMajor: richMajor, yMinor: richMinor, xLong: 21, xShort: 10, yLong: 22, yShort: 11 }
  });
  buildPanel('bl', {
    points: stripe(aliDL, bioAtDL).concat(bioAli), fit: bioAliFit,
    xRange: aliRange, yRange: bioRangeAli, xLabels: aliLabels, yLabels: bioLabels,
    showX: true, showY: true, xPad: 27, yPad: 30,
    pad: { top: 5, right: 23, left: 0, bottom: 0 }, yW: 131, xH: 130,
    deco: { xMajor: aliMajor, xMinor: aliMinor, yMajor: bioMajor, yMinor: bioMinor, xLong: 20, xShort: 10, yLong: 23, yShort: 11 }
  });
  buildPanel('br', {
    points: bioPh, fit: bioPhFit,
    xRange: phRangeBottom, yRange: bioRangePh, xLabels: phLabels, yLabels: bioLabels,
    showX: true, showY: false, xPad: 27, yPad: 10,
    pad: { top: 5, right: 7, left: 0, bottom: 0 }, yW: 26, xH: 130,
    deco: { xMajor: phMajor, xMinor: phMinor, yMajor: bioMajor, yMinor: bioMinor, xLong: 20, xShort: 10, yLong: 22, yShort: 11 }
  });
})();
</script>
</body>
</html>
